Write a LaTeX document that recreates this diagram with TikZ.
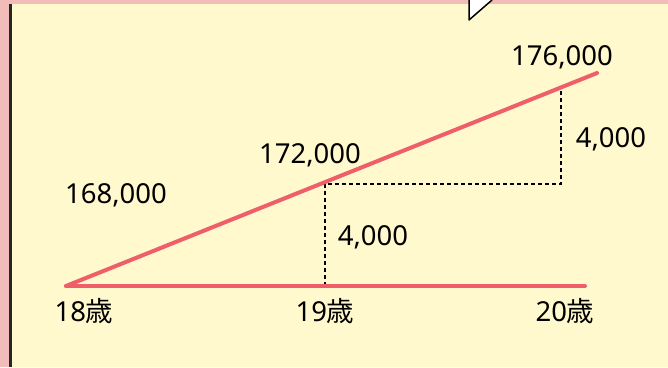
\documentclass[tikz,border=0pt]{standalone}
\usepackage{fontspec}
\setmainfont{Noto Sans}
\newfontfamily\jp{Noto Sans CJK JP}
\usetikzlibrary{positioning}
\definecolor{kiiro}{HTML}{FFF9CD}
\definecolor{momo}{HTML}{F2BCB8}
\definecolor{aka}{HTML}{EE5F69}
\newcommand{\sai}{{\jp 歳}}
\begin{document}
\begin{tikzpicture}[x=1pt,y=-1pt,
  lbl/.style={font=\fontsize{27.5}{30}\selectfont,inner sep=0pt},
  sen/.style={aka,line width=4pt,line cap=round},
  ten/.style={line width=2.4pt,dash pattern=on 4pt off 3pt}]
\useasboundingbox (0,0) rectangle (668,367);
\fill[momo] (0,0) rectangle (668,367);
\fill[kiiro] (11,4) rectangle (668,367);
\draw[line width=2.5pt,black!85] (10.5,4) -- (10.5,367);
\fill[white] (469,0) -- (492,0) -- (469,20) -- cycle;
\draw[line width=1.5pt,line join=round] (469,0) -- (469,20) -- (492,0);
\coordinate (p18) at (66,286);
\coordinate (p19) at (325,286);
\coordinate (p20) at (585,286);
\coordinate (q19) at (325,184);
\coordinate (q20) at (561,184);
\coordinate (r20) at (561,88);
\coordinate (top) at (597,73);
\draw[ten] (p19) -- (q19) -- (q20) -- (r20);
\draw[sen] (p18) -- (p20);
\draw[sen] (p18) -- (top);
\node[lbl] (n18) at (84,311) {18\sai};
\node[lbl] (n19) at (325,311) {19\sai};
\node[lbl] (n20) at (565,311) {20\sai};
\node[lbl] (v168) at (116,195) {168,000};
\node[lbl] (v172) at (310,155) {172,000};
\node[lbl] (v176) at (562,57) {176,000};
\node[lbl] (d19) at (373,237) {4,000};
\node[lbl] (d20) at (611,139) {4,000};
\end{tikzpicture}
\end{document}
